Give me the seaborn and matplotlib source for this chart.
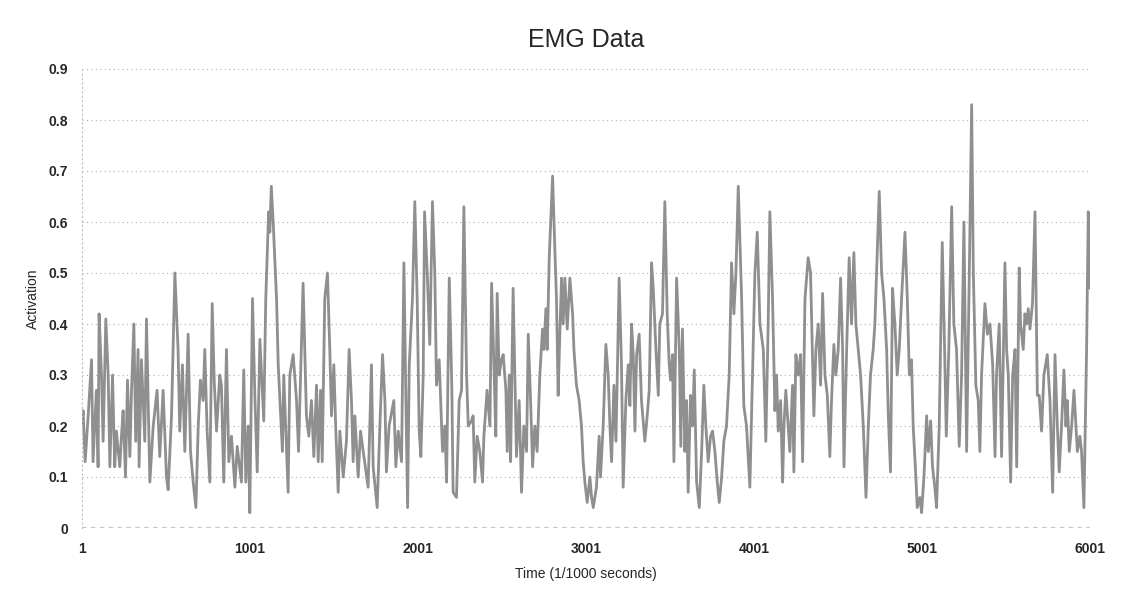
import numpy as np
import pandas as pd
import seaborn as sns
import matplotlib
matplotlib.use("Agg")
import matplotlib.pyplot as plt

# Values (turning points of the EMG trace)
time_ms = [
    0, 8, 20, 38, 58, 67, 87, 97, 103, 117, 127, 143, 157, 167, 183, 196, 206, 226, 236, 246,
    260, 272, 286, 296, 310, 321, 335, 341, 355, 375, 385, 405, 425, 448, 464, 484, 504, 514, 534, 554,
    573, 583, 599, 613, 633, 647, 663, 679, 693, 706, 722, 732, 746, 762, 776, 788, 802, 821, 831, 845,
    861, 875, 891, 911, 925, 950, 964, 976, 990, 1000, 1016, 1030, 1044, 1060, 1070, 1083, 1095, 1103, 1112, 1119,
    1128, 1139, 1150, 1159, 1169, 1194, 1202, 1228, 1238, 1258, 1278, 1290, 1317, 1327, 1337, 1351, 1367, 1381, 1397, 1407,
    1421, 1431, 1446, 1462, 1476, 1486, 1500, 1512, 1526, 1536, 1556, 1575, 1591, 1605, 1615, 1625, 1645, 1659, 1675, 1704,
    1714, 1724, 1734, 1758, 1774, 1790, 1804, 1813, 1829, 1857, 1869, 1883, 1903, 1917, 1929, 1939, 1949, 1968, 1982, 1996,
    2008, 2018, 2032, 2040, 2056, 2071, 2087, 2101, 2111, 2127, 2147, 2161, 2171, 2187, 2202, 2210, 2230, 2246, 2260, 2274,
    2290, 2300, 2319, 2329, 2339, 2353, 2369, 2385, 2393, 2412, 2429, 2439, 2452, 2464, 2472, 2484, 2498, 2508, 2524, 2532,
    2544, 2552, 2567, 2577, 2587, 2603, 2617, 2631, 2647, 2657, 2671, 2683, 2696, 2710, 2726, 2742, 2750, 2762, 2770, 2782,
    2802, 2815, 2825, 2835, 2845, 2855, 2865, 2875, 2889, 2905, 2921, 2929, 2944, 2960, 2974, 2984, 2994, 3008, 3024, 3034,
    3044, 3063, 3079, 3087, 3103, 3119, 3133, 3143, 3153, 3167, 3179, 3187, 3198, 3212, 3222, 3238, 3252, 3262, 3272, 3282,
    3292, 3302, 3317, 3331, 3351, 3365, 3377, 3391, 3401, 3417, 3431, 3440, 3456, 3470, 3484, 3496, 3504, 3516, 3524, 3540,
    3556, 3565, 3575, 3589, 3599, 3609, 3623, 3635, 3645, 3659, 3675, 3689, 3702, 3714, 3728, 3742, 3754, 3768, 3782, 3794,
    3808, 3821, 3837, 3853, 3867, 3881, 3893, 3907, 3927, 3940, 3956, 3976, 3992, 4006, 4020, 4036, 4056, 4071, 4085, 4095,
    4111, 4125, 4135, 4145, 4159, 4171, 4179, 4190, 4204, 4214, 4230, 4238, 4250, 4264, 4278, 4290, 4304, 4323, 4337, 4357,
    4369, 4383, 4397, 4409, 4423, 4437, 4452, 4462, 4476, 4488, 4502, 4516, 4528, 4536, 4552, 4567, 4581, 4595, 4607, 4621,
    4635, 4651, 4667, 4681, 4694, 4710, 4720, 4730, 4746, 4760, 4774, 4790, 4800, 4813, 4825, 4839, 4853, 4865, 4879, 4899,
    4913, 4925, 4938, 4948, 4964, 4972, 4988, 4998, 5012, 5028, 5038, 5052, 5063, 5077, 5087, 5103, 5121, 5135, 5145, 5160,
    5177, 5190, 5206, 5222, 5236, 5250, 5266, 5282, 5296, 5306, 5321, 5335, 5345, 5355, 5375, 5390, 5405, 5421, 5435, 5444,
    5460, 5474, 5494, 5504, 5514, 5528, 5540, 5554, 5564, 5579, 5587, 5603, 5613, 5623, 5633, 5643, 5658, 5673, 5687, 5698,
    5712, 5726, 5746, 5762, 5778, 5792, 5806, 5817, 5831, 5845, 5857, 5865, 5877, 5891, 5905, 5917, 5925, 5940, 5950, 5964,
    5972, 5980, 5990, 5996, 6000,
]
activation = [
    0.20, 0.23, 0.13, 0.22, 0.33, 0.13, 0.27, 0.12, 0.42, 0.30, 0.17, 0.41, 0.30, 0.12, 0.30, 0.12, 0.19, 0.12, 0.18, 0.23,
    0.10, 0.29, 0.14, 0.27, 0.40, 0.17, 0.35, 0.12, 0.33, 0.17, 0.41, 0.09, 0.20, 0.27, 0.14, 0.27, 0.10, 0.075, 0.22, 0.50,
    0.35, 0.19, 0.32, 0.15, 0.38, 0.15, 0.09, 0.04, 0.20, 0.29, 0.25, 0.35, 0.19, 0.09, 0.44, 0.29, 0.19, 0.30, 0.28, 0.09,
    0.35, 0.13, 0.18, 0.08, 0.16, 0.09, 0.31, 0.09, 0.20, 0.03, 0.45, 0.26, 0.11, 0.37, 0.30, 0.21, 0.45, 0.53, 0.62, 0.58,
    0.67, 0.60, 0.52, 0.45, 0.32, 0.15, 0.30, 0.07, 0.30, 0.34, 0.25, 0.15, 0.48, 0.35, 0.22, 0.18, 0.25, 0.14, 0.28, 0.13,
    0.27, 0.13, 0.45, 0.50, 0.35, 0.22, 0.32, 0.19, 0.07, 0.19, 0.10, 0.17, 0.35, 0.25, 0.13, 0.22, 0.10, 0.19, 0.15, 0.08,
    0.20, 0.32, 0.12, 0.04, 0.20, 0.34, 0.25, 0.11, 0.20, 0.25, 0.12, 0.19, 0.13, 0.52, 0.25, 0.04, 0.32, 0.45, 0.64, 0.45,
    0.19, 0.14, 0.30, 0.62, 0.50, 0.36, 0.64, 0.50, 0.28, 0.33, 0.15, 0.20, 0.09, 0.49, 0.28, 0.07, 0.06, 0.25, 0.27, 0.63,
    0.30, 0.20, 0.21, 0.22, 0.09, 0.18, 0.15, 0.09, 0.18, 0.27, 0.20, 0.48, 0.33, 0.18, 0.46, 0.30, 0.33, 0.34, 0.27, 0.15,
    0.30, 0.13, 0.47, 0.30, 0.14, 0.25, 0.07, 0.20, 0.15, 0.38, 0.25, 0.12, 0.20, 0.15, 0.30, 0.39, 0.35, 0.43, 0.35, 0.53,
    0.69, 0.55, 0.45, 0.26, 0.38, 0.49, 0.40, 0.49, 0.39, 0.49, 0.42, 0.35, 0.28, 0.25, 0.20, 0.13, 0.09, 0.05, 0.10, 0.06,
    0.04, 0.08, 0.18, 0.10, 0.20, 0.36, 0.30, 0.20, 0.13, 0.28, 0.17, 0.30, 0.49, 0.32, 0.08, 0.25, 0.32, 0.24, 0.40, 0.34,
    0.19, 0.34, 0.38, 0.25, 0.17, 0.22, 0.27, 0.52, 0.47, 0.35, 0.26, 0.40, 0.42, 0.64, 0.42, 0.32, 0.29, 0.34, 0.13, 0.49,
    0.35, 0.16, 0.39, 0.15, 0.25, 0.07, 0.26, 0.20, 0.31, 0.09, 0.04, 0.15, 0.28, 0.20, 0.13, 0.18, 0.19, 0.15, 0.09, 0.05,
    0.10, 0.17, 0.20, 0.30, 0.52, 0.42, 0.50, 0.67, 0.45, 0.24, 0.20, 0.08, 0.30, 0.50, 0.58, 0.40, 0.35, 0.17, 0.40, 0.62,
    0.45, 0.23, 0.30, 0.19, 0.25, 0.09, 0.20, 0.27, 0.20, 0.15, 0.28, 0.11, 0.34, 0.30, 0.34, 0.13, 0.45, 0.53, 0.50, 0.22,
    0.35, 0.40, 0.28, 0.46, 0.30, 0.26, 0.14, 0.25, 0.36, 0.30, 0.35, 0.49, 0.35, 0.12, 0.35, 0.53, 0.40, 0.54, 0.40, 0.35,
    0.30, 0.20, 0.06, 0.20, 0.30, 0.35, 0.40, 0.50, 0.66, 0.50, 0.45, 0.35, 0.22, 0.11, 0.47, 0.40, 0.30, 0.35, 0.45, 0.58,
    0.45, 0.30, 0.33, 0.20, 0.10, 0.04, 0.06, 0.03, 0.10, 0.22, 0.15, 0.21, 0.12, 0.08, 0.04, 0.20, 0.56, 0.35, 0.18, 0.35,
    0.63, 0.40, 0.35, 0.16, 0.30, 0.60, 0.15, 0.50, 0.83, 0.50, 0.28, 0.25, 0.15, 0.30, 0.44, 0.38, 0.40, 0.32, 0.14, 0.30,
    0.40, 0.14, 0.52, 0.35, 0.30, 0.09, 0.30, 0.35, 0.12, 0.51, 0.40, 0.35, 0.42, 0.40, 0.43, 0.39, 0.44, 0.62, 0.26, 0.26,
    0.19, 0.30, 0.34, 0.25, 0.07, 0.34, 0.20, 0.11, 0.20, 0.31, 0.20, 0.25, 0.15, 0.20, 0.27, 0.20, 0.15, 0.18, 0.15, 0.04,
    0.20, 0.35, 0.62, 0.48, 0.47,
]
x_ticks = [1, 1001, 2001, 3001, 4001, 5001, 6001]
y_ticks = [0, 0.1, 0.2, 0.3, 0.4, 0.5, 0.6, 0.7, 0.8, 0.9]

df = pd.DataFrame({"Time": time_ms, "Activation": activation})

sns.set_theme(style="white")
plt.rcParams["font.family"] = ["Liberation Sans", "DejaVu Sans"]

fig = plt.figure(figsize=(11.32, 6), dpi=100)
ax = fig.add_axes([0.0724, 0.12, 0.8906, 0.765])

sns.lineplot(data=df, x="Time", y="Activation", ax=ax, color="#8f8f8f",
             linewidth=2.0, estimator=None, sort=False)

ax.set_xlim(1, 6001)
ax.set_ylim(0, 0.9)
ax.set_xticks(x_ticks)
ax.set_yticks(y_ticks)
ax.set_yticklabels(["0"] + [f"{v:.1f}" for v in y_ticks[1:]])
ax.tick_params(axis="both", labelsize=10, length=0, pad=10)
for lab in ax.get_xticklabels() + ax.get_yticklabels():
    lab.set_fontweight("bold")

# Dotted horizontal grid, no box
ax.yaxis.grid(True, linestyle=(0, (1, 3)), color="#b0b0b0", linewidth=0.8)
ax.xaxis.grid(False)
ax.axhline(0, color="#c8c8c8", linestyle=(0, (2, 2)), linewidth=1.6, zorder=0)
for side in ["top", "right", "bottom"]:
    ax.spines[side].set_visible(False)
ax.spines["left"].set_color("#c0c0c0")
ax.spines["left"].set_linestyle((0, (1, 3)))
ax.spines["left"].set_linewidth(0.8)

ax.set_title("EMG Data", fontsize=18, pad=16)
ax.set_xlabel("Time (1/1000 seconds)", fontsize=10, labelpad=8)
ax.set_ylabel("Activation", fontsize=10, labelpad=6)

fig.savefig("out.png", dpi=100)
